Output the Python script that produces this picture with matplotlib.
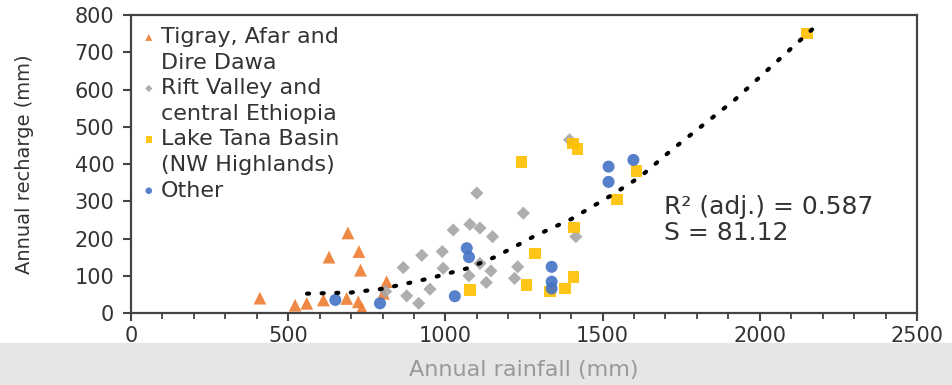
import matplotlib.pyplot as plt
from matplotlib.lines import Line2D
from matplotlib.patches import Rectangle
from matplotlib.ticker import MultipleLocator

plt.rcParams['font.family'] = ['DejaVu Sans']

# Tigray, Afar and Dire Dawa (orange triangles)
tigray_x = [410, 522, 559, 612, 630, 686, 690, 723, 725, 730, 734, 803, 813]
tigray_y = [40, 21, 26, 35, 150, 39, 215, 30, 165, 115, 13, 53, 84]

# Rift Valley and central Ethiopia (grey diamonds)
rift_x = [1100, 1248, 1025, 1078, 1110, 1150, 990, 925, 866, 993, 1110, 1145,
          1130, 951, 877, 915, 1230, 1220, 1415, 1395, 1075, 810]
rift_y = [322, 268, 223, 238, 228, 205, 165, 155, 122, 120, 133, 113,
          82, 64, 46, 26, 124, 93, 205, 465, 100, 58]

# Lake Tana Basin (yellow squares)
tana_x = [2150, 1242, 1405, 1420, 1608, 1545, 1410, 1285, 1078, 1258, 1407, 1333, 1380]
tana_y = [750, 406, 455, 440, 382, 305, 230, 160, 62, 75, 97, 58, 66]

# Other (blue circles)
other_x = [1519, 1519, 1598, 1068, 1075, 1338, 1338, 1338, 1030, 650, 792]
other_y = [393, 352, 411, 174, 150, 124, 84, 66, 45, 35, 26]

# fitted curve
fit_x = [560, 700, 800, 950, 1070, 1160, 1280, 1400, 1530, 1620, 1720, 1920, 2170]
fit_y = [52, 55, 65, 93, 120, 151, 205, 252, 317, 366, 438, 572, 764]

fig = plt.figure(figsize=(9.52, 3.85), dpi=100)
fig.patches.append(Rectangle((0, 0), 1, 0.11, transform=fig.transFigure,
                             color='#e6e6e6', zorder=-1))
ax = fig.add_axes([0.1376, 0.187, 0.8256, 0.774])

h1 = ax.scatter(tigray_x, tigray_y, marker='^', s=85, color='#ED7D31', edgecolors='none', alpha=0.9)
h2 = ax.scatter(rift_x, rift_y, marker='D', s=45, color='#A5A5A5', edgecolors='none', alpha=0.9)
h3 = ax.scatter(tana_x, tana_y, marker='s', s=70, color='#FFC000', edgecolors='none', alpha=0.9)
h4 = ax.scatter(other_x, other_y, marker='o', s=75, color='#4472C4', edgecolors='none', alpha=0.9)
ax.plot(fit_x, fit_y, color='black', lw=3, linestyle=(0, (0.5, 3.0)), dash_capstyle='round', zorder=5)

ax.set_xlim(0, 2500)
ax.set_ylim(0, 800)
ax.xaxis.set_major_locator(MultipleLocator(500))
ax.xaxis.set_minor_locator(MultipleLocator(100))
ax.yaxis.set_major_locator(MultipleLocator(100))
for s in ax.spines.values():
    s.set_linewidth(1.6)
    s.set_color('#444444')
ax.tick_params(which='major', length=6, width=1.5, color='#444444', labelsize=15,
               labelcolor='#333333')
ax.tick_params(axis='y', pad=6)
ax.tick_params(which='minor', length=4, width=1.3, color='#444444')

ax.set_ylabel('Annual recharge (mm)', fontsize=14, color='#333333', labelpad=29)
ax.set_xlabel('Annual rainfall (mm)', fontsize=16, color='#999999', labelpad=10)

ax.text(1695, 250, 'R² (adj.) = 0.587\nS = 81.12', fontsize=18, color='#333333',
        va='center', ha='left', linespacing=1.1)

# legend: marker beside the first line of each two-line label
blank = Line2D([], [], linestyle='none')
handles = [h1, blank, h2, blank, h3, blank, h4]
labels = ['Tigray, Afar and', 'Dire Dawa', 'Rift Valley and', 'central Ethiopia',
          'Lake Tana Basin', '(NW Highlands)', 'Other']
ax.legend(handles, labels, loc='upper left', frameon=False, fontsize=16,
          markerscale=0.55, handlelength=0.5, handletextpad=0.3, labelspacing=0.25,
          borderaxespad=0.15, labelcolor='#333333')

fig.savefig('out.png', dpi=100)
